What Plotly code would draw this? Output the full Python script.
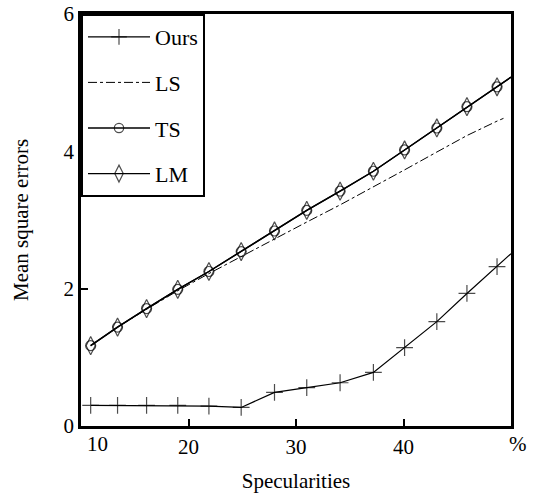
import plotly.graph_objects as go

# Data
x_pts = [10.9, 13.4, 16.1, 19.0, 21.9, 24.9, 28.0, 31.0, 34.1, 37.2, 40.1, 43.1, 45.9, 48.7, 50.0]
ours = [0.30, 0.30, 0.30, 0.30, 0.29, 0.27, 0.49, 0.56, 0.63, 0.78, 1.14, 1.52, 1.93, 2.32, 2.51]
ls_x = [10.9, 13.4, 16.1, 19.0, 21.9, 24.9, 28.0, 31.0, 34.1, 37.2, 40.1, 43.1, 45.9, 48.7, 49.3]
ls = [1.17, 1.44, 1.70, 1.97, 2.22, 2.47, 2.72, 2.97, 3.22, 3.48, 3.73, 3.99, 4.23, 4.44, 4.48]
ts = [1.17, 1.44, 1.71, 1.99, 2.25, 2.54, 2.84, 3.14, 3.42, 3.71, 4.02, 4.34, 4.65, 4.94, 5.08]
lm = [1.17, 1.44, 1.71, 1.99, 2.25, 2.54, 2.84, 3.14, 3.42, 3.71, 4.02, 4.34, 4.65, 4.94, 5.08]
series_names = ["Ours", "LS", "TS", "LM"]
x_ticks = [10, 20, 30, 40]
y_ticks = [0, 2, 4, 6]

FONT = "Liberation Serif"
n = len(x_pts)
msize = lambda s: [s] * (n - 1) + [0]

fig = go.Figure()
fig.add_trace(go.Scatter(
    x=x_pts, y=ours, name=series_names[0], mode="lines+markers", legendgroup="a",
    line=dict(color="black", width=1.2),
    marker=dict(symbol="cross-thin-open", size=msize(12), line=dict(color="black", width=1.2)),
))
fig.add_trace(go.Scatter(
    x=ls_x, y=ls, name=series_names[1], mode="lines", legendgroup="b",
    line=dict(color="black", width=1, dash="dashdot"),
))
fig.add_trace(go.Scatter(
    x=x_pts, y=ts, name=series_names[2], mode="lines+markers", legendgroup="c",
    line=dict(color="black", width=1.4),
    marker=dict(symbol="circle-open", size=msize(10), color="black", line=dict(color="black", width=1.2)),
))
fig.add_trace(go.Scatter(
    x=x_pts, y=lm, name=series_names[3], mode="lines+markers", legendgroup="d",
    line=dict(color="black", width=1.4),
    marker=dict(symbol="diamond-tall-open", size=msize(13), color="black", line=dict(color="black", width=1.2)),
))

fig.update_layout(
    width=534, height=497,
    margin=dict(l=81, r=23, t=14, b=71, autoexpand=False),
    paper_bgcolor="white", plot_bgcolor="white",
    font=dict(family=FONT, size=21, color="black"),
    showlegend=True,
    legend=dict(
        x=0, y=1, xanchor="left", yanchor="top",
        bgcolor="white", bordercolor="black", borderwidth=2,
        font=dict(family=FONT, size=22, color="black"),
        traceorder="grouped", tracegroupgap=14,
        itemwidth=62,
    ),
    xaxis=dict(
        range=[10, 50], tickvals=x_ticks[1:], ticktext=[str(v) for v in x_ticks[1:]],
        ticks="inside", ticklen=7, tickwidth=2, tickcolor="black",
        showline=True, linecolor="black", linewidth=2.5, mirror=True,
        showgrid=False, zeroline=False, automargin=False,
        title=dict(text="Specularities", font=dict(family=FONT, size=21), standoff=16),
        tickfont=dict(family=FONT, size=21),
    ),
    yaxis=dict(
        range=[0, 6], tickvals=y_ticks, ticktext=[str(v) for v in y_ticks],
        ticks="inside", ticklen=7, tickwidth=2, tickcolor="black",
        showline=True, linecolor="black", linewidth=2.5, mirror=True,
        showgrid=False, zeroline=False, automargin=False,
        title=dict(text="Mean square errors", font=dict(family=FONT, size=21), standoff=30),
        tickfont=dict(family=FONT, size=21),
    ),
    annotations=[
        dict(text=str(x_ticks[0]), x=11.5, y=0, xref="x", yref="paper",
             xanchor="center", yanchor="top", yshift=-4, showarrow=False,
             font=dict(family=FONT, size=21, color="black")),
        dict(text="%", x=1.0, y=0, xref="paper", yref="paper",
             xanchor="left", yanchor="top", xshift=-4, yshift=-4, showarrow=False,
             font=dict(family=FONT, size=21, color="black")),
    ],
)

fig.write_html("out.html")
